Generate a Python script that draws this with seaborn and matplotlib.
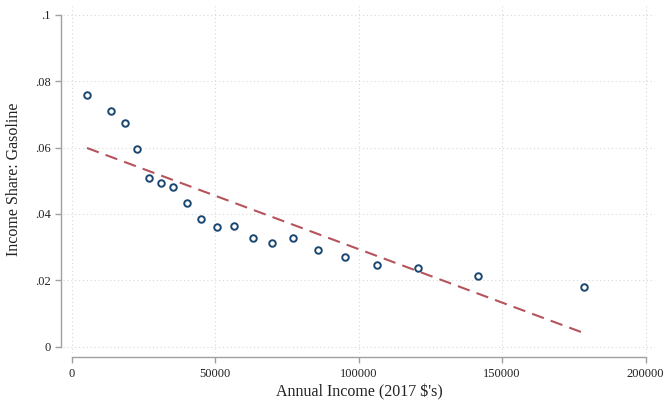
import numpy as np
import matplotlib.pyplot as plt
import pandas as pd
import seaborn as sns

# binned scatter: annual income vs income share spent on gasoline
income = [5400, 13800, 18600, 22800, 27000, 31200, 35400, 40200, 45100, 50700,
          56600, 63200, 69900, 77200, 85900, 95300, 106400, 120700, 141600, 178500]
share = [0.0759, 0.0711, 0.0675, 0.0596, 0.0509, 0.0494, 0.0482, 0.0433, 0.0385, 0.0361,
         0.0364, 0.0328, 0.0313, 0.0328, 0.0292, 0.0271, 0.0246, 0.0237, 0.0213, 0.0180]

# linear fit line (endpoints)
fit_income = [5400, 178500]
fit_share = [0.0599, 0.0041]

xticks = [0, 50000, 100000, 150000, 200000]
yticks = [0, 0.02, 0.04, 0.06, 0.08, 0.1]
ytick_labels = ['0', '.02', '.04', '.06', '.08', '.1']

sns.set_theme(style='white')
plt.rcParams['font.family'] = ['Liberation Serif', 'DejaVu Serif']

df = pd.DataFrame({'income': income, 'share': share})
fit = pd.DataFrame({'income': fit_income, 'share': fit_share})

fig = plt.figure(figsize=(6.66, 4.01), dpi=100)
ax = fig.add_axes([0.0946, 0.119, 0.889, 0.866])

sns.scatterplot(data=df, x='income', y='share', ax=ax, s=22, facecolor='white',
                edgecolor='#1a476f', linewidth=1.4, zorder=3)
sns.lineplot(data=fit, x='income', y='share', ax=ax, color='#b5545c', lw=1.5,
             dashes=False, zorder=2)
ax.lines[-1].set_dashes([6, 3.5])

ax.set_xlim(-2960, 203300)
ax.set_ylim(-0.002, 0.1027)
ax.set_xticks(xticks)
ax.set_xticklabels([str(t) for t in xticks])
ax.set_yticks(yticks)
ax.set_yticklabels(ytick_labels)

ax.grid(True, ls=(0, (1, 2.5)), color='#d8d8d8', lw=0.8)
for s in ['top', 'right']:
    ax.spines[s].set_visible(False)
ax.spines['left'].set_position(('outward', 1.5))
ax.spines['bottom'].set_position(('outward', 2.5))
ax.spines['left'].set_bounds(0, 0.1)
ax.spines['bottom'].set_bounds(0, 200000)
for s in ['left', 'bottom']:
    ax.spines[s].set_color('#a0a0a0')
    ax.spines[s].set_linewidth(1.0)
ax.tick_params(axis='both', which='major', length=4, width=1.0, color='#a0a0a0',
               labelsize=9, labelcolor='#222222', direction='out', bottom=True, left=True,
               pad=3.5)
ax.tick_params(axis='x', pad=4)

ax.set_xlabel("Annual Income (2017 $'s)", fontsize=11.5, color='#222222', labelpad=3)
ax.set_ylabel('Income Share: Gasoline', fontsize=11.5, color='#222222', labelpad=9)

plt.savefig('out.png', dpi=100)
plt.close()
